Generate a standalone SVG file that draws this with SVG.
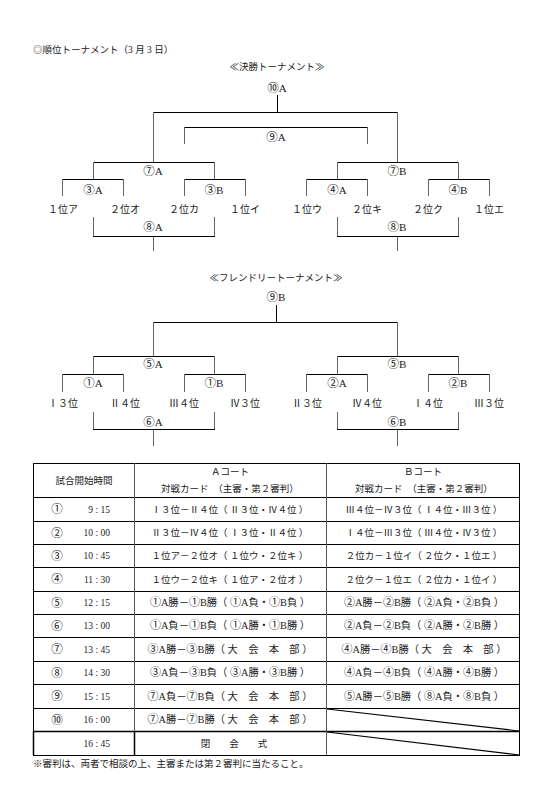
<svg xmlns="http://www.w3.org/2000/svg" width="535" height="796" viewBox="0 0 535 796">
<style>
text{font-family:"Liberation Serif","Noto Sans CJK JP",serif;fill:#1a1a1a;font-size:9.5px}
.c{text-anchor:middle}
.r{text-anchor:end}
.h{stroke:#000;stroke-width:1;fill:none}
.v{stroke:#666;stroke-width:1;fill:none}
.t{stroke:#000;stroke-width:1;fill:none}
.tv{stroke:#555;stroke-width:1;fill:none}
.lb text{font-size:11px}
.lb text.tm{font-size:10px}
.n{font-size:11.5px}
text.w{font-size:10.3px}
.m{font-size:11px}
</style>
<rect width="535" height="796" fill="#fff"/>
<text x="33" y="53" font-size="9">◎順位トーナメント（3 月 3 日）</text>
<text class="c" x="277" y="70">≪決勝トーナメント≫</text>
<text class="c" x="276" y="281">≪フレンドリートーナメント≫</text>

<g id="connectors">
  <path class="h" d="M277.5 95V112.5M153 112.5H398M184 127.5H368M93 162.5H215M337 162.5H459M62 179.5H124M184 179.5H246M306 179.5H368M428 179.5H490M93 236.5H215M337 236.5H459"/>
  <path class="v" d="M153.5 112V162M397.5 112V162M184.5 127V144M367.5 127V144M93.5 162V179M214.5 162V179M337.5 162V179M458.5 162V179M62.5 179V196M123.5 179V196M184.5 179V196M245.5 179V196M306.5 179V196M367.5 179V196M428.5 179V196M489.5 179V196M93.5 217V236M214.5 217V236M337.5 217V236M458.5 217V236M153.5 237V251M397.5 237V251"/>
  <path class="h" d="M276.5 305V322.5M153 322.5H398M93 356.5H215M337 356.5H459M62 374.5H124M184 374.5H246M306 374.5H368M428 374.5H490M93 429.5H215M337 429.5H459"/>
  <path class="v" d="M153.5 322V356M397.5 322V356M93.5 356V374M214.5 356V374M337.5 356V374M458.5 356V374M62.5 374V392M123.5 374V392M184.5 374V392M245.5 374V392M306.5 374V392M367.5 374V392M428.5 374V392M489.5 374V392M93.5 412V429M214.5 412V429M337.5 412V429M458.5 412V429M153.5 430V446M397.5 430V446"/>
</g>

<g id="final-nodes" class="lb">
  <g id="n10A"><text class="c" x="277" y="92"><tspan class="n">⑩</tspan>A</text></g>
  <g id="n9A"><text class="c" x="276" y="141"><tspan class="n">⑨</tspan>A</text></g>
  <g id="n7A"><text class="c" x="153" y="175"><tspan class="n">⑦</tspan>A</text></g>
  <g id="n7B"><text class="c" x="397" y="175"><tspan class="n">⑦</tspan>B</text></g>
  <g id="n3A"><text class="c" x="93" y="194"><tspan class="n">③</tspan>A</text></g>
  <g id="n3B"><text class="c" x="214" y="194"><tspan class="n">③</tspan>B</text></g>
  <g id="n4A"><text class="c" x="337" y="194"><tspan class="n">④</tspan>A</text></g>
  <g id="n4B"><text class="c" x="458" y="194"><tspan class="n">④</tspan>B</text></g>
  <g id="t1a"><text class="c tm" x="63" y="213">１位ア</text></g>
  <g id="t2o"><text class="c tm" x="125" y="213">２位オ</text></g>
  <g id="t2ka"><text class="c tm" x="184" y="213">２位カ</text></g>
  <g id="t1i"><text class="c tm" x="245" y="213">１位イ</text></g>
  <g id="t1u"><text class="c tm" x="307" y="213">１位ウ</text></g>
  <g id="t2ki"><text class="c tm" x="367" y="213">２位キ</text></g>
  <g id="t2ku"><text class="c tm" x="428" y="213">２位ク</text></g>
  <g id="t1e"><text class="c tm" x="489" y="213">１位エ</text></g>
  <g id="n8A"><text class="c" x="153" y="231"><tspan class="n">⑧</tspan>A</text></g>
  <g id="n8B"><text class="c" x="397" y="231"><tspan class="n">⑧</tspan>B</text></g>
</g>

<g id="friendly-nodes" class="lb">
  <g id="n9B"><text class="c" x="276" y="301"><tspan class="n">⑨</tspan>B</text></g>
  <g id="n5A"><text class="c" x="153" y="368"><tspan class="n">⑤</tspan>A</text></g>
  <g id="n5B"><text class="c" x="397" y="368"><tspan class="n">⑤</tspan>B</text></g>
  <g id="n1A"><text class="c" x="93" y="387"><tspan class="n">①</tspan>A</text></g>
  <g id="n1B"><text class="c" x="214" y="387"><tspan class="n">①</tspan>B</text></g>
  <g id="n2A"><text class="c" x="337" y="387"><tspan class="n">②</tspan>A</text></g>
  <g id="n2B"><text class="c" x="458" y="387"><tspan class="n">②</tspan>B</text></g>
  <g id="fI3"><text class="c tm" x="63" y="407">Ⅰ３位</text></g>
  <g id="fII4"><text class="c tm" x="125" y="407">Ⅱ４位</text></g>
  <g id="fIII4"><text class="c tm" x="184" y="407">Ⅲ４位</text></g>
  <g id="fIV3"><text class="c tm" x="245" y="407">Ⅳ３位</text></g>
  <g id="fII3"><text class="c tm" x="307" y="407">Ⅱ３位</text></g>
  <g id="fIV4"><text class="c tm" x="367" y="407">Ⅳ４位</text></g>
  <g id="fI4"><text class="c tm" x="428" y="407">Ⅰ４位</text></g>
  <g id="fIII3"><text class="c tm" x="489" y="407">Ⅲ３位</text></g>
  <g id="n6A"><text class="c" x="153" y="426"><tspan class="n">⑥</tspan>A</text></g>
  <g id="n6B"><text class="c" x="397" y="426"><tspan class="n">⑥</tspan>B</text></g>
</g>

<g id="table">
  <rect class="t" x="33.5" y="463.5" width="486" height="292"/>
  <path class="t" d="M33 497.5H519M33 521.5H519M33 544.5H519M33 567.5H519M33 591.5H519M33 614.5H519M33 637.5H519M33 661.5H519M33 684.5H519M33 708.5H519"/>
  <path d="M33 731.5H519" stroke="#000" stroke-width="1.5"/>
  <path class="tv" d="M134.5 463V731M326.5 463V755"/>
  <path d="M134.5 731V755M33.5 731V755" stroke="#000" stroke-width="1.5"/>
  <path d="M327 709L519 731M327 732L519 755" stroke="#000" stroke-width="1.2"/>

  <text class="c" x="84" y="484">試合開始時間</text>
  <text class="c" x="230" y="475">Ａコート</text>
  <text class="c" x="230" y="492">対戦カード　（主審・第２審判）</text>
  <text class="c" x="423" y="475">Ｂコート</text>
  <text class="c" x="424" y="492">対戦カード　（主審・第２審判）</text>

  <g class="c">
    <text class="n" x="57" y="513">①</text>
    <text class="n" x="57" y="536.5">②</text>
    <text class="n" x="57" y="559.5">③</text>
    <text class="n" x="57" y="583">④</text>
    <text class="n" x="57" y="606.5">⑤</text>
    <text class="n" x="57" y="629.5">⑥</text>
    <text class="n" x="57" y="653">⑦</text>
    <text class="n" x="57" y="676.5">⑧</text>
    <text class="n" x="57" y="700">⑨</text>
    <text class="n" x="57" y="723.5">⑩</text>
  </g>
  <g class="r">
    <text x="110" y="512.5">9 : 15</text>
    <text x="110" y="536">10 : 00</text>
    <text x="110" y="559">10 : 45</text>
    <text x="110" y="582.5">11 : 30</text>
    <text x="110" y="606">12 : 15</text>
    <text x="110" y="629">13 : 00</text>
    <text x="110" y="652.5">13 : 45</text>
    <text x="110" y="676">14 : 30</text>
    <text x="110" y="699.5">15 : 15</text>
    <text x="110" y="723">16 : 00</text>
    <text x="110" y="746.5">16 : 45</text>
  </g>
  <g class="c">
    <text x="230" y="512.5">Ⅰ３位－Ⅱ４位（ Ⅱ３位・Ⅳ４位 ）</text>
    <text x="230" y="536">Ⅱ３位－Ⅳ４位（ Ⅰ３位・Ⅱ４位 ）</text>
    <text x="230" y="559">１位ア－２位オ（ １位ウ・２位キ ）</text>
    <text x="230" y="582.5">１位ウ－２位キ（ １位ア・２位オ ）</text>
    <text class="w" x="230" y="606"><tspan class="m">①</tspan>A勝－<tspan class="m">①</tspan>B勝（ <tspan class="m">①</tspan>A負・<tspan class="m">①</tspan>B負 ）</text>
    <text class="w" x="230" y="629"><tspan class="m">①</tspan>A負－<tspan class="m">①</tspan>B負（ <tspan class="m">①</tspan>A勝・<tspan class="m">①</tspan>B勝 ）</text>
    <text class="w" x="230" y="652.5"><tspan class="m">③</tspan>A勝－<tspan class="m">③</tspan>B勝（ 大　会　本　部 ）</text>
    <text class="w" x="230" y="676"><tspan class="m">③</tspan>A負－<tspan class="m">③</tspan>B負（ <tspan class="m">③</tspan>A勝・<tspan class="m">③</tspan>B勝 ）</text>
    <text class="w" x="230" y="699.5"><tspan class="m">⑦</tspan>A負－<tspan class="m">⑦</tspan>B負（ 大　会　本　部 ）</text>
    <text class="w" x="230" y="723"><tspan class="m">⑦</tspan>A勝－<tspan class="m">⑦</tspan>B勝（ 大　会　本　部 ）</text>
    <text x="234" y="746.5">閉　　会　　式</text>
    <text x="424" y="512.5">Ⅲ４位－Ⅳ３位（ Ⅰ４位・Ⅲ３位 ）</text>
    <text x="424" y="536">Ⅰ４位－Ⅲ３位（ Ⅲ４位・Ⅳ３位 ）</text>
    <text x="424" y="559">２位カ－１位イ（ ２位ク・１位エ ）</text>
    <text x="424" y="582.5">２位ク－１位エ（ ２位カ・１位イ ）</text>
    <text class="w" x="424" y="606"><tspan class="m">②</tspan>A勝－<tspan class="m">②</tspan>B勝（ <tspan class="m">②</tspan>A負・<tspan class="m">②</tspan>B負 ）</text>
    <text class="w" x="424" y="629"><tspan class="m">②</tspan>A負－<tspan class="m">②</tspan>B負（ <tspan class="m">②</tspan>A勝・<tspan class="m">②</tspan>B勝 ）</text>
    <text class="w" x="424" y="652.5"><tspan class="m">④</tspan>A勝－<tspan class="m">④</tspan>B勝（ 大　会　本　部 ）</text>
    <text class="w" x="424" y="676"><tspan class="m">④</tspan>A負－<tspan class="m">④</tspan>B負（ <tspan class="m">④</tspan>A勝・<tspan class="m">④</tspan>B勝 ）</text>
    <text class="w" x="424" y="699.5"><tspan class="m">⑤</tspan>A勝－<tspan class="m">⑤</tspan>B勝（ <tspan class="m">⑧</tspan>A負・<tspan class="m">⑧</tspan>B負 ）</text>
  </g>
</g>
<text x="33" y="767">※審判は、両者で相談の上、主審または第２審判に当たること。</text>
</svg>
